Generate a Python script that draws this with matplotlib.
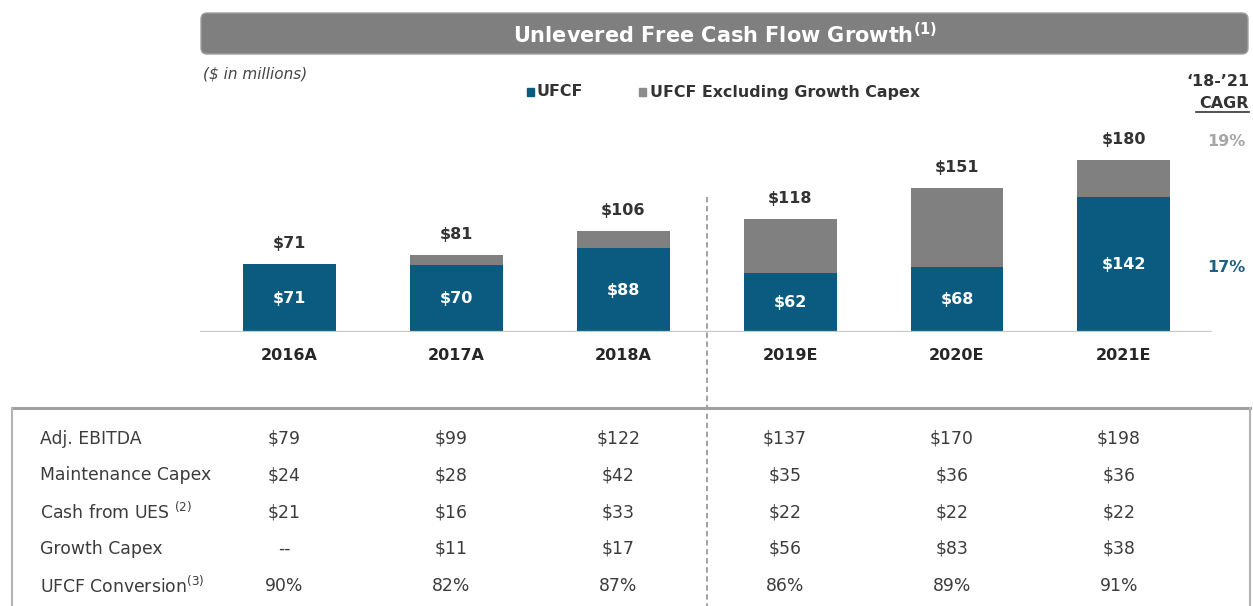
import matplotlib
matplotlib.use("Agg")
import matplotlib.pyplot as plt
from matplotlib.patches import FancyBboxPatch, Rectangle
from matplotlib.lines import Line2D
from matplotlib.transforms import blended_transform_factory

# ---- data ($ in millions) ----
categories = ["2016A", "2017A", "2018A", "2019E", "2020E", "2021E"]
ufcf = [71, 70, 88, 62, 68, 142]
ufcf_ex_growth = [71, 81, 106, 118, 151, 180]
cagr_ex_growth = "19%"
cagr_ufcf = "17%"

row_labels = ["Adj. EBITDA", "Maintenance Capex", "Cash from UES",
              "Growth Capex", "UFCF Conversion"]
row_notes = ["", "", " $^{\\mathregular{(2)}}$", "", "$^{\\mathregular{(3)}}$"]
adj_ebitda = ["$79", "$99", "$122", "$137", "$170", "$198"]
maintenance_capex = ["$24", "$28", "$42", "$35", "$36", "$36"]
cash_from_ues = ["$21", "$16", "$33", "$22", "$22", "$22"]
growth_capex = ["--", "$11", "$17", "$56", "$83", "$38"]
ufcf_conversion = ["90%", "82%", "87%", "86%", "89%", "91%"]
table_rows = [adj_ebitda, maintenance_capex, cash_from_ues,
              growth_capex, ufcf_conversion]

# ---- styling ----
BLUE = "#0b5b80"
GREY = "#808080"
DARK = "#262626"
TABLE_TXT = "#3c3c3c"
plt.rcParams["font.family"] = ["DejaVu Sans"]

W, H = 1253, 606
fig = plt.figure(figsize=(W / 100, H / 100), dpi=100)

# bar panel
ax = fig.add_axes([200 / W, (H - 332.3) / H, 1012 / W, 212.3 / H])
ax.patch.set_visible(False)
x = list(range(len(categories)))
growth_part = [t - u for t, u in zip(ufcf_ex_growth, ufcf)]
bw = 0.557
ax.bar(x, ufcf, width=bw, color=BLUE, zorder=2)
ax.bar(x, growth_part, width=bw, bottom=ufcf, color=GREY, zorder=2)
ax.set_xlim(-0.536, 5.528)
ax.set_ylim(0, 222)
ax.axhline(0, color="#c8c8c8", lw=1.6, zorder=3)
for s in ax.spines.values():
    s.set_visible(False)
ax.set_yticks([])
ax.set_xticks(x, labels=categories)
ax.tick_params(axis="x", length=0, pad=11)
for lab in ax.get_xticklabels():
    lab.set_fontweight("bold")
    lab.set_fontsize(11.5)
    lab.set_color(DARK)

for xi, u, t in zip(x, ufcf, ufcf_ex_growth):
    ax.annotate(f"${t}", (xi, t), xytext=(0, 15), textcoords="offset points",
                ha="center", va="center", fontsize=11.5, fontweight="bold",
                color="#333333")
    ax.text(xi, u / 2, f"${u}", ha="center", va="center", fontsize=11.5,
            fontweight="bold", color="white", zorder=4)

# overlay in pixel units for the frame, header and table
ov = fig.add_axes([0, 0, 1, 1], zorder=-1)
ov.set_xlim(0, W)
ov.set_ylim(H, 0)
ov.axis("off")

# header banner
ov.add_patch(FancyBboxPatch((201, 13), 1047, 41,
                            boxstyle="round,pad=0,rounding_size=6",
                            fc="#7f7f7f", ec="#a0a0a0", lw=1))
ov.text(725, 35, "Unlevered Free Cash Flow Growth$^{\\mathbf{(1)}}$",
        ha="center", va="center", color="white", fontsize=15,
        fontweight="bold")

ov.text(203, 74, "($ in millions)", ha="left", va="center", fontsize=11,
        style="italic", color="#444444")

# legend
ov.add_patch(Rectangle((526.5, 88), 7.5, 7.5, color=BLUE))
ov.text(537, 92, "UFCF", ha="left", va="center", fontsize=11.4,
        fontweight="bold", color="#333333")
ov.add_patch(Rectangle((638.5, 88), 7.5, 7.5, color="#8c8c8c"))
ov.text(650, 92, "UFCF Excluding Growth Capex", ha="left", va="center",
        fontsize=11.4, fontweight="bold", color="#333333")

# CAGR column
ov.text(1249, 81, "\u201818-\u201921", ha="right", va="center",
        fontsize=11.5, fontweight="bold", color="#333333")
ov.text(1249, 103, "CAGR", ha="right", va="center", fontsize=11.5,
        fontweight="bold", color="#333333")
ov.add_line(Line2D([1196, 1249], [111.5, 111.5], color="#333333", lw=1.2))
ov.text(1226, 142, cagr_ex_growth, ha="center", va="center", fontsize=11.5,
        fontweight="bold", color="#a6a6a6")
ov.text(1226, 267, cagr_ufcf, ha="center", va="center", fontsize=11.5,
        fontweight="bold", color="#1f5f85")

# actual / estimate divider, positioned between the 2018A and 2019E bars
mix = blended_transform_factory(ax.transData, ov.transData)
ov.add_line(Line2D([2.5, 2.5], [197, H], transform=mix, color="#9a9a9a",
                   lw=1.3, dashes=(3, 2)))

# table frame
ov.add_line(Line2D([12, 1250], [408, 408], color="#a0a0a0", lw=2.2))
ov.add_line(Line2D([12, 12], [408, H], color="#b4b4b4", lw=1.5))
ov.add_line(Line2D([1250, 1250], [408, H], color="#b4b4b4", lw=1.5))

row_y0, row_dy = 438.5, 36.8
for r, (label, note, vals) in enumerate(zip(row_labels, row_notes, table_rows)):
    y = row_y0 + r * row_dy
    ov.text(40, y, label + note, ha="left", va="center", fontsize=12.4,
            color=TABLE_TXT)
    for xi, v in zip(x, vals):
        ov.text(xi - 0.03, y, v, transform=mix, ha="center", va="center",
                fontsize=12.4, color=TABLE_TXT)

fig.savefig("out.png", dpi=100)
